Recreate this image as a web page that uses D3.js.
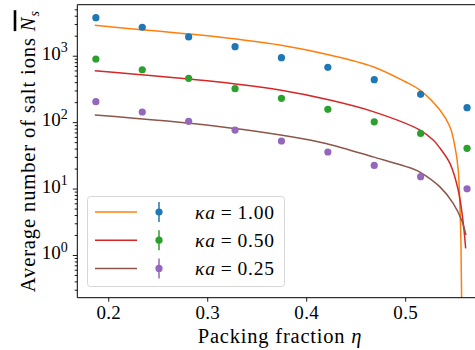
<!DOCTYPE html>
<html>
<head>
<meta charset="utf-8">
<script src="https://cdnjs.cloudflare.com/ajax/libs/d3/7.8.5/d3.min.js"></script>
<style>
  html, body { margin: 0; padding: 0; background: #fff; }
  #chart { width: 475px; height: 350px; overflow: hidden; }
  svg { display: block; }
  text { font-family: 'Liberation Serif', 'DejaVu Serif', serif; }
</style>
</head>
<body>
<div id="chart"></div>
<script>
// Simulation points (one per packing fraction)
var etaPoints = [0.1875, 0.234375, 0.28125, 0.328125, 0.375, 0.421875, 0.46875, 0.515625, 0.5625];
var nsKa100   = [3733, 2680, 1915, 1367, 933, 668, 436, 262, 165];
var nsKa050   = [892, 615, 457, 319, 228, 156, 101, 67.7, 40.3];
var nsKa025   = [203, 142, 103, 76, 52, 35.5, 22.3, 15.1, 9.9];

// Theory curves
var theoryEta100 = [0.1864, 0.2337, 0.2805, 0.3095, 0.3733, 0.4238, 0.4676, 0.5, 0.5149, 0.5351, 0.5452, 0.5503, 0.5536, 0.5553, 0.5563, 0.5570, 0.5573];
var theoryKa100  = [2870, 2466, 2124, 1930, 1449, 1025, 683, 406, 304, 152, 85, 42.7, 19, 5.3, 1.68, 0.234, 0.006];
var theoryEta050 = [0.1864, 0.3095, 0.3733, 0.4238, 0.4676, 0.5149, 0.5283, 0.5351, 0.5452, 0.5536, 0.5587, 0.5611];
var theoryKa050  = [594, 405, 304, 215, 144, 76, 53.7, 40.7, 24, 9.5, 3.0, 1.26];
var theoryEta025 = [0.1864, 0.3095, 0.4036, 0.4238, 0.4676, 0.5081, 0.5149, 0.5351, 0.5485, 0.5570, 0.5614];
var theoryKa025  = [128, 87, 54, 46, 30, 19.7, 17.7, 10.6, 6.0, 3.36, 2.0];

var legendLabels = ['1.00', '0.50', '0.25'];
var xTicks = [0.2, 0.3, 0.4, 0.5];
var yTicks = [1, 10, 100, 1000];

var SERIF = "'Liberation Serif', 'DejaVu Serif', serif";

/**
  * Log-scale scatter + line chart.
  */
var SaltChart = function(element, options) {
  var _this = this;
  _this.element = document.querySelector(element);
  _this.options = options || { };
  _this.width   = 475;
  _this.height  = 350;
  _this.margin  = { left: 77.3, top: 4.7, right: -10.6, bottom: 52.3 };
  _this.draw();
};

SaltChart.prototype.createScales = function() {
  var _this = this,
      m     = _this.margin;

  _this.x = d3.scaleLinear()
              .domain([0.16875, 0.58125])
              .range([m.left, _this.width - m.right]);
  _this.y = d3.scaleLog()
              .domain([0.2275, 5861])
              .range([_this.height - m.bottom, m.top]);
};

SaltChart.prototype.draw = function() {
  var _this = this,
      m     = _this.margin;

  _this.createScales();
  var x = _this.x, y = _this.y;

  var svg = d3.select(_this.element)
              .append('svg')
              .attr('width', _this.width)
              .attr('height', _this.height)
              .attr('font-family', SERIF);

  svg.append('clipPath')
     .attr('id', 'plot-clip')
     .append('rect')
     .attr('x', m.left)
     .attr('y', m.top)
     .attr('width', x.range()[1] - m.left)
     .attr('height', y.range()[0] - m.top);

  var series = [
    { eta: theoryEta100, ns: theoryKa100, line: '#ff7f0e', pts: nsKa100, dot: '#1f77b4' },
    { eta: theoryEta050, ns: theoryKa050, line: '#d62728', pts: nsKa050, dot: '#2ca02c' },
    { eta: theoryEta025, ns: theoryKa025, line: '#8c564b', pts: nsKa025, dot: '#9467bd' }
  ];

  var line = d3.line()
               .x(function(d) { return x(d[0]); })
               .y(function(d) { return y(d[1]); })
               .curve(d3.curveCatmullRom.alpha(0.5));

  var plot = svg.append('g').attr('clip-path', 'url(#plot-clip)');

  series.forEach(function(s) {
    plot.append('path')
        .datum(d3.zip(s.eta, s.ns))
        .attr('d', line)
        .attr('fill', 'none')
        .attr('stroke', s.line)
        .attr('stroke-width', 1.5);
  });

  series.forEach(function(s) {
    plot.selectAll(null)
        .data(d3.zip(etaPoints, s.pts))
        .enter()
        .append('circle')
        .attr('cx', function(d) { return x(d[0]); })
        .attr('cy', function(d) { return y(d[1]); })
        .attr('r', 3.6)
        .attr('fill', s.dot);
  });

  _this.drawAxes(svg);
  _this.drawLegend(svg, series);
};

SaltChart.prototype.drawAxes = function(svg) {
  var _this  = this,
      x      = _this.x,
      y      = _this.y,
      bottom = y.range()[0],
      left   = x.range()[0];

  var xAxis = svg.append('g')
                 .attr('transform', 'translate(0,' + bottom + ')')
                 .call(d3.axisBottom(x)
                         .tickValues(xTicks)
                         .tickSize(4)
                         .tickPadding(4)
                         .tickFormat(d3.format('.1f')));
  xAxis.attr('font-family', SERIF).attr('font-size', 19);
  xAxis.select('.domain').remove();
  xAxis.selectAll('text').attr('fill', '#000').attr('letter-spacing', 0.3);

  // minor log ticks
  var minor = [];
  [0.1, 1, 10, 100, 1000].forEach(function(dec) {
    for (var k = 2; k <= 9; k++) {
      var v = dec * k;
      if (v >= y.domain()[0] && v <= y.domain()[1]) minor.push(v);
    }
  });
  var yMinor = svg.append('g')
                  .attr('transform', 'translate(' + left + ',0)')
                  .call(d3.axisLeft(y).tickValues(minor).tickSize(2.6).tickFormat(''));
  yMinor.select('.domain').remove();

  var yAxis = svg.append('g')
                 .attr('transform', 'translate(' + left + ',0)')
                 .call(d3.axisLeft(y).tickValues(yTicks).tickSize(4.5).tickPadding(5).tickFormat(''));
  yAxis.attr('font-family', SERIF).attr('font-size', 19);
  yAxis.select('.domain').remove();

  yAxis.selectAll('.tick text')
       .attr('fill', '#000')
       .attr('dy', '0.2em')
       .each(function(d) {
         var t = d3.select(this);
         t.append('tspan').text('10');
         t.append('tspan')
          .attr('font-size', 14)
          .attr('dy', '-0.55em')
          .text(Math.round(Math.log10(d)));
       });

  svg.selectAll('.tick line').attr('stroke', '#000').attr('stroke-width', 0.9);

  // spines: left, bottom, top (right one falls outside the picture)
  var right = x.range()[1], top = y.range()[1];
  svg.append('path')
     .attr('d', 'M' + right + ',' + top + 'H' + left + 'V' + bottom + 'H' + right)
     .attr('fill', 'none')
     .attr('stroke', '#000')
     .attr('stroke-width', 1);

  // x label
  var xl = svg.append('text')
              .attr('x', 280)
              .attr('y', 343)
              .attr('text-anchor', 'middle')
              .attr('font-size', 20.5)
              .attr('letter-spacing', 0.8)
              .attr('fill', '#000');
  xl.append('tspan').text('Packing fraction ');
  xl.append('tspan').attr('font-style', 'italic').text('η');

  // y label with overline on N_s
  var g = svg.append('g').attr('transform', 'translate(35,' + ((top + bottom) / 2) + ') rotate(-90)');
  var yl = g.append('text')
            .attr('text-anchor', 'middle')
            .attr('font-size', 20.5)
            .attr('letter-spacing', 0.9)
            .attr('fill', '#000');
  var base = 'Average number of salt ions ';
  yl.append('tspan').text(base);
  yl.append('tspan').attr('font-style', 'italic').text('N');
  yl.append('tspan').attr('font-style', 'italic').attr('font-size', 14).attr('dy', 4).text('s');

  var node = yl.node();
  var n0 = base.length;
  var start = node.getStartPositionOfChar(n0).x;
  var end = node.getEndPositionOfChar(n0 + 1).x;
  g.append('line')
   .attr('x1', start)
   .attr('x2', end)
   .attr('y1', -20)
   .attr('y2', -20)
   .attr('stroke', '#000')
   .attr('stroke-width', 2.6);
};

SaltChart.prototype.drawLegend = function(svg, series) {
  var lg = svg.append('g');

  lg.append('rect')
    .attr('x', 87.5)
    .attr('y', 196.5)
    .attr('width', 197)
    .attr('height', 90)
    .attr('rx', 3)
    .attr('fill', '#fff')
    .attr('fill-opacity', 0.8)
    .attr('stroke', '#d6d6d6')
    .attr('stroke-width', 1);

  series.forEach(function(s, i) {
    var cy = 212 + i * 28.2;
    var row = lg.append('g').attr('transform', 'translate(0,' + cy + ')');

    row.append('line')
       .attr('x1', 95).attr('x2', 137)
       .attr('stroke', s.line)
       .attr('stroke-width', 1.5);

    row.append('line')
       .attr('x1', 159).attr('x2', 159)
       .attr('y1', -10).attr('y2', 10)
       .attr('stroke', s.dot)
       .attr('stroke-width', 1.5);

    row.append('circle')
       .attr('cx', 159)
       .attr('r', 3.6)
       .attr('fill', s.dot);

    var t = row.append('text')
               .attr('x', 195)
               .attr('y', 6.5)
               .attr('font-size', 19.5)
               .attr('letter-spacing', 0.8)
               .attr('fill', '#000');
    t.append('tspan').attr('font-style', 'italic').text('κa');
    t.append('tspan').attr('dx', 5).text('=');
    t.append('tspan').attr('dx', 5).text(legendLabels[i]);
  });
};

new SaltChart('#chart');
</script>
</body>
</html>
